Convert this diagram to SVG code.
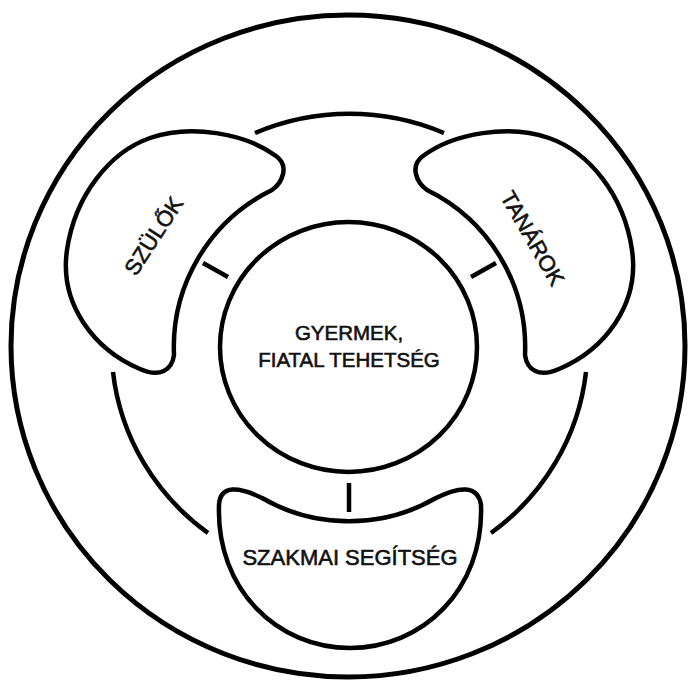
<svg xmlns="http://www.w3.org/2000/svg" width="688" height="680" viewBox="0 0 688 680">
<style>
.ln{fill:none;stroke:#000;stroke-width:4.5;stroke-linecap:butt}
.nd{fill:#fff;stroke:#000;stroke-width:4.5;stroke-linejoin:round}
.tx{font-family:"Liberation Sans",Arial,sans-serif;fill:#111;stroke:#111;stroke-width:0.6;text-anchor:middle}
</style>
<rect width="688" height="680" fill="#fff"/>
<g id="outer">
<ellipse class="ln" cx="348" cy="346" rx="337" ry="331" style="stroke-width:5"/>
</g>
<g id="ring">
<path class="ln" d="M255,133 A237 232 0 0 1 444,133"/>
<path class="ln" d="M113,372 A237 232 0 0 0 208,533"/>
<path class="ln" d="M586,372 A237 232 0 0 1 491,533"/>
</g>
<g id="connectors">
<line class="ln" x1="349" y1="483" x2="349" y2="512"/>
<line class="ln" x1="203" y1="263" x2="228" y2="277"/>
<line class="ln" x1="496" y1="263" x2="471" y2="277"/>
</g>
<g id="center">
<ellipse class="nd" cx="348.5" cy="347" rx="128.5" ry="125"/>
<text class="tx" x="349" y="340" font-size="20.5">GYERMEK,</text>
<text class="tx" x="349" y="367" font-size="20.5">FIATAL TEHETSÉG</text>
</g>
<g id="szulok">
<path class="nd" d="M174,355 A175 175 0 0 1 272,190 C282,183 290,166 276,156 C245,133 190,124 150,138 C110,152 75,195 67,250 C59,305 95,350 140,369 C160,378 172,370 174,355 Z"/>
<text class="tx" x="160" y="240" font-size="22" transform="rotate(-57 160 240)">SZÜLŐK</text>
</g>
<g id="tanarok">
<path class="nd" transform="translate(699,0) scale(-1,1)" d="M174,355 A175 175 0 0 1 272,190 C282,183 290,166 276,156 C245,133 190,124 150,138 C110,152 75,195 67,250 C59,305 95,350 140,369 C160,378 172,370 174,355 Z"/>
<text class="tx" x="526" y="242" font-size="22" transform="rotate(60 526 242)">TANÁROK</text>
</g>
<g id="szakmai">
<path class="nd" d="M262,498 A174 174 0 0 0 436,498 C458,487 478,484 481,505 C484,590 422,648 350,648 C278,648 216,590 219,505 C220,484 240,487 262,498 Z"/>
<text class="tx" x="350" y="565" font-size="22">SZAKMAI SEGÍTSÉG</text>
</g>
</svg>
